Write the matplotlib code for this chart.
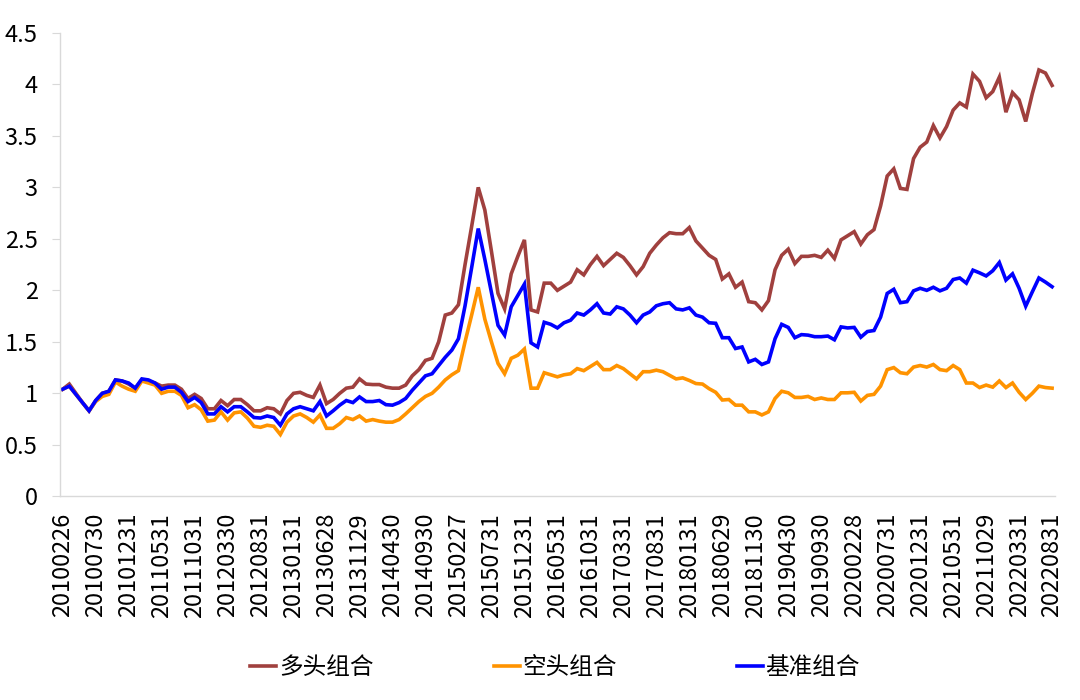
import numpy as np
import matplotlib
matplotlib.use("Agg")
import matplotlib.pyplot as plt
from matplotlib.ticker import FuncFormatter

plt.rcParams['font.family'] = ['Noto Sans CJK SC', 'DejaVu Sans']

# month-end values, 2010-02 .. 2022-08
long_port = [
    1.04, 1.09, 1.00, 0.91, 0.83, 0.93, 1.00, 1.02, 1.13, 1.12,
    1.09, 1.05, 1.13, 1.12, 1.10, 1.07, 1.08, 1.08, 1.04, 0.95,
    0.99, 0.95, 0.85, 0.85, 0.93, 0.88, 0.94, 0.94, 0.89, 0.83,
    0.83, 0.86, 0.85, 0.80, 0.93, 1.00, 1.01, 0.98, 0.96, 1.08,
    0.90, 0.94, 1.00, 1.05, 1.06, 1.14, 1.09, 1.085, 1.085, 1.06,
    1.05, 1.05, 1.08, 1.17, 1.23, 1.32, 1.34, 1.50, 1.76, 1.78,
    1.86, 2.25, 2.62, 3.00, 2.78, 2.38, 1.97, 1.82, 2.16, 2.33,
    2.49, 1.81, 1.79, 2.07, 2.07, 2.00, 2.04, 2.08, 2.20, 2.15,
    2.25, 2.33, 2.24, 2.30, 2.36, 2.32, 2.24, 2.15, 2.23, 2.36,
    2.44, 2.51, 2.56, 2.55, 2.55, 2.61, 2.48, 2.41, 2.34, 2.30,
    2.11, 2.16, 2.03, 2.08, 1.89, 1.88, 1.81, 1.90, 2.20, 2.34,
    2.40, 2.26, 2.33, 2.33, 2.34, 2.32, 2.39, 2.31, 2.49, 2.53,
    2.57, 2.45, 2.54, 2.59, 2.82, 3.11, 3.18, 2.99, 2.98, 3.28,
    3.39, 3.44, 3.60, 3.48, 3.59, 3.75, 3.82, 3.78, 4.10, 4.03,
    3.87, 3.93, 4.07, 3.73, 3.92, 3.85, 3.64, 3.91, 4.14, 4.11,
    3.99,
]

short_port = [
    1.04, 1.07, 0.99, 0.91, 0.83, 0.92, 0.97, 0.99, 1.11, 1.07,
    1.04, 1.02, 1.12, 1.10, 1.08, 1.00, 1.02, 1.02, 0.98, 0.86,
    0.89, 0.84, 0.73, 0.74, 0.82, 0.74, 0.81, 0.82, 0.76, 0.68,
    0.67, 0.69, 0.68, 0.60, 0.72, 0.78, 0.80, 0.765, 0.72, 0.79,
    0.66, 0.66, 0.705, 0.765, 0.745, 0.78, 0.73, 0.745, 0.73, 0.72,
    0.72, 0.745, 0.80, 0.86, 0.92, 0.97, 1.00, 1.06, 1.13, 1.18,
    1.22, 1.50, 1.76, 2.03, 1.72, 1.50, 1.29, 1.19, 1.34, 1.37,
    1.43, 1.05, 1.05, 1.20, 1.18, 1.16, 1.18, 1.19, 1.24, 1.22,
    1.26, 1.30, 1.23, 1.23, 1.27, 1.24, 1.19, 1.14, 1.21, 1.21,
    1.225, 1.21, 1.175, 1.14, 1.15, 1.125, 1.095, 1.09, 1.045, 1.01,
    0.935, 0.94, 0.885, 0.885, 0.82, 0.82, 0.79, 0.82, 0.95, 1.02,
    1.005, 0.96, 0.96, 0.97, 0.94, 0.955, 0.94, 0.94, 1.005, 1.005,
    1.01, 0.925, 0.98, 0.99, 1.07, 1.23, 1.25, 1.20, 1.19, 1.255,
    1.27, 1.255, 1.28, 1.23, 1.22, 1.27, 1.23, 1.10, 1.10, 1.056,
    1.08, 1.06, 1.12, 1.056, 1.10, 1.01, 0.94, 1.00, 1.07, 1.056,
    1.05,
]

bench_port = [
    1.04, 1.07, 0.99, 0.91, 0.83, 0.93, 1.00, 1.02, 1.13, 1.12,
    1.10, 1.05, 1.14, 1.13, 1.10, 1.04, 1.06, 1.06, 1.01, 0.92,
    0.96, 0.91, 0.80, 0.80, 0.87, 0.82, 0.87, 0.87, 0.82, 0.765,
    0.76, 0.78, 0.765, 0.69, 0.80, 0.85, 0.87, 0.85, 0.83, 0.92,
    0.78, 0.83, 0.885, 0.93, 0.91, 0.965, 0.92, 0.92, 0.93, 0.89,
    0.885, 0.91, 0.95, 1.03, 1.10, 1.17, 1.19, 1.27, 1.35, 1.42,
    1.53, 1.85, 2.22, 2.60, 2.30, 1.98, 1.66, 1.565, 1.84, 1.95,
    2.06, 1.49, 1.45, 1.69, 1.67, 1.635, 1.685, 1.71, 1.78, 1.76,
    1.81, 1.87, 1.78, 1.77, 1.84, 1.82, 1.76, 1.685, 1.76, 1.79,
    1.85, 1.87, 1.88, 1.82, 1.81, 1.83, 1.76, 1.74, 1.685, 1.68,
    1.54, 1.54, 1.435, 1.45, 1.305, 1.33, 1.28, 1.305, 1.53, 1.67,
    1.64, 1.54, 1.57, 1.565, 1.55, 1.55, 1.556, 1.52, 1.645, 1.635,
    1.64, 1.545, 1.60, 1.61, 1.74, 1.97, 2.01, 1.88, 1.89, 1.995,
    2.02, 2.00, 2.03, 1.995, 2.02, 2.105, 2.12, 2.07, 2.196, 2.17,
    2.14, 2.19, 2.27, 2.10, 2.16, 2.02, 1.846, 1.985, 2.12, 2.08,
    2.035,
]

tick_labels = [
    "20100226", "20100730", "20101231", "20110531", "20111031",
    "20120330", "20120831", "20130131", "20130628", "20131129",
    "20140430", "20140930", "20150227", "20150731", "20151231",
    "20160531", "20161031", "20170331", "20170831", "20180131",
    "20180629", "20181130", "20190430", "20190930", "20200228",
    "20200731", "20201231", "20210531", "20211029", "20220331",
    "20220831",
]

names = ["多头组合", "空头组合", "基准组合"]
colors = ["#A0403E", "#FF9300", "#0000FF"]

x = np.arange(len(long_port))

fig = plt.figure(figsize=(10.8, 7), dpi=100)
ax = fig.add_axes([0.0556, 0.291, 0.921, 0.662])

for ys, name, c in zip([long_port, short_port, bench_port], names, colors):
    ax.plot(x, ys, color=c, lw=2.6, label=name, solid_joinstyle="miter")

ax.set_xlim(-0.4, 150.4)
ax.set_ylim(0, 4.5)
ax.set_yticks(np.arange(0, 4.51, 0.5))
ax.yaxis.set_major_formatter(FuncFormatter(lambda v, p: "%g" % v))
ax.set_xticks(x[::5])
ax.set_xticklabels(tick_labels, rotation=90)

ax.tick_params(axis="y", length=6, color="#D9D9D9", pad=10, labelsize=17)
ax.tick_params(axis="x", length=0, pad=12, labelsize=17)
for s in ["top", "right"]:
    ax.spines[s].set_visible(False)
for s in ["left", "bottom"]:
    ax.spines[s].set_color("#D9D9D9")
    ax.spines[s].set_linewidth(1.0)

fig.legend(loc="center", bbox_to_anchor=(0.514, 0.046), ncol=3, frameon=False,
           fontsize=17, handlelength=1.1, handletextpad=0.1, columnspacing=5.1)

fig.savefig("out.png")
